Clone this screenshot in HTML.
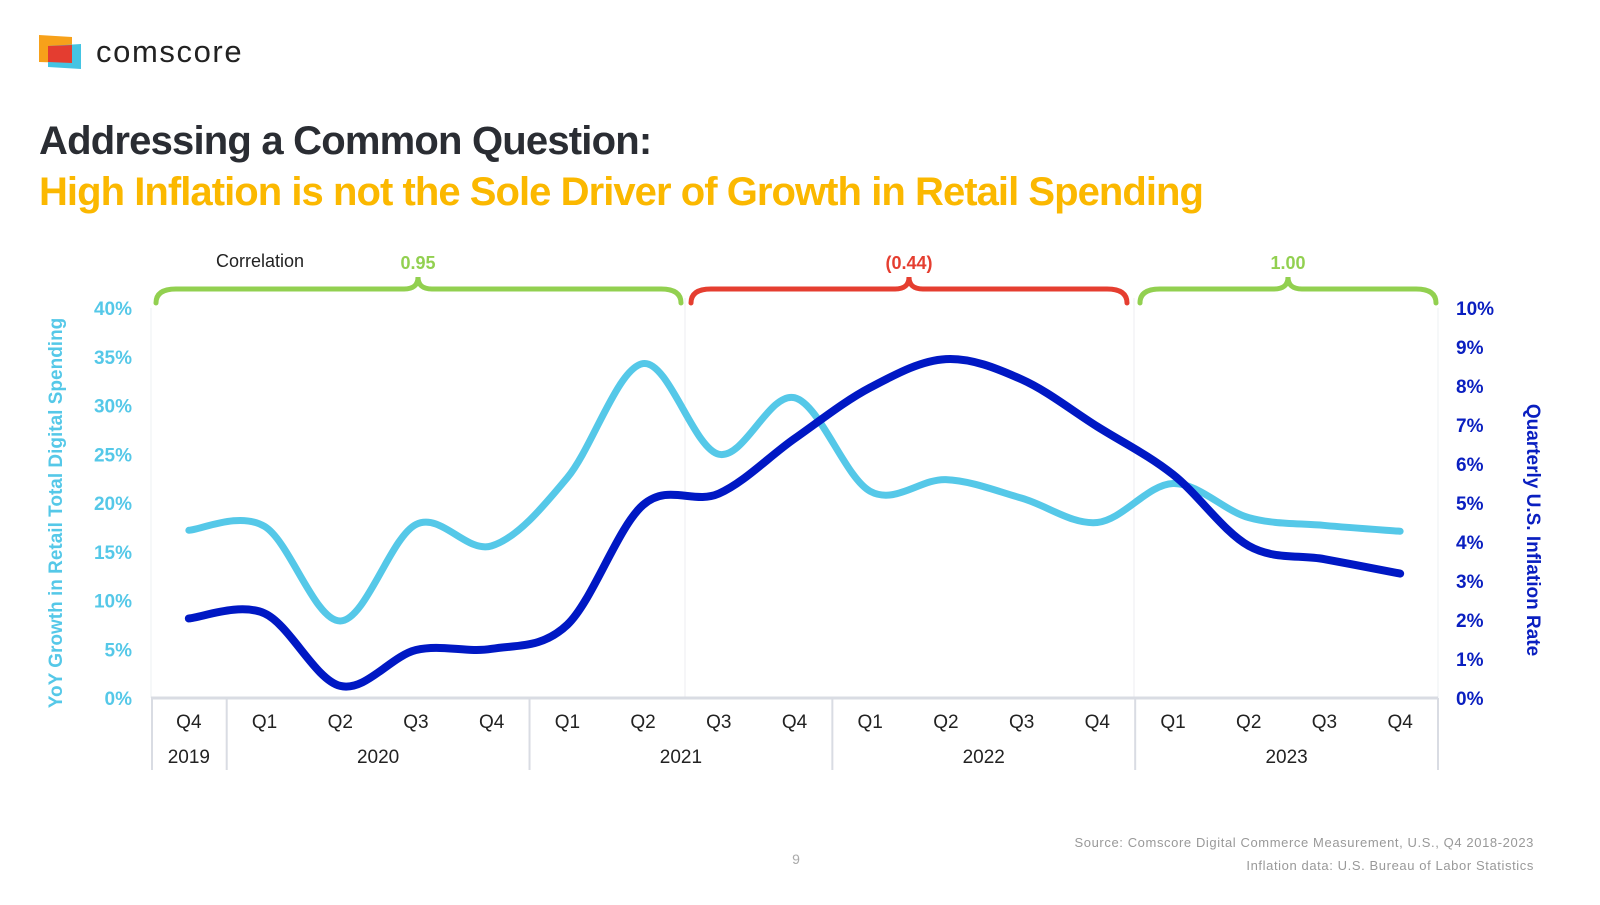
<!DOCTYPE html>
<html><head><meta charset="utf-8"><style>
html,body{margin:0;padding:0;background:#fff;}
body{width:1600px;height:900px;overflow:hidden;font-family:"Liberation Sans",sans-serif;}
</style></head><body>
<svg id="chart" width="1600" height="900" viewBox="0 0 1600 900" xmlns="http://www.w3.org/2000/svg" font-family="Liberation Sans, sans-serif">
  <g>
    <polygon points="39,35 72,37 72,63 39,62" fill="#f7a11a"/>
    <polygon points="48,46 81,44 81,69 48,67" fill="#44c4e3"/>
    <polygon points="48,46 72,45 72,63 48,62" fill="#e43d30"/>
    <text x="96" y="62" font-size="31" fill="#222" letter-spacing="1.6">comscore</text>
  </g>
  <text x="39" y="154" font-size="40" font-weight="bold" fill="#2a2d33" letter-spacing="-0.8">Addressing a Common Question:</text>
  <text x="39" y="205" font-size="40" font-weight="bold" fill="#fbb800" letter-spacing="-0.95">High Inflation is not the Sole Driver of Growth in Retail Spending</text>
  <g id="plot"></g>
  <text x="796" y="864" font-size="14" fill="#aaa" text-anchor="middle">9</text>
  <text x="1534" y="847" font-size="13" fill="#999" text-anchor="end" letter-spacing="0.6">Source: Comscore Digital Commerce Measurement, U.S., Q4 2018-2023</text>
  <text x="1534" y="870" font-size="13" fill="#999" text-anchor="end" letter-spacing="0.6">Inflation data: U.S. Bureau of Labor Statistics</text>
</svg>
<script>
const quarters = ["Q4","Q1","Q2","Q3","Q4","Q1","Q2","Q3","Q4","Q1","Q2","Q3","Q4","Q1","Q2","Q3","Q4"];
const years = ["2019","2020","2021","2022","2023"];
const yearSpans = [1,4,4,4,4];
const retailGrowth = [17.2,17.6,7.9,17.8,15.6,22.6,34.3,25.0,30.8,21.2,22.4,20.5,18.0,22.0,18.5,17.7,17.1];
const inflation = [2.04,2.17,0.31,1.23,1.26,1.88,4.95,5.24,6.65,7.96,8.69,8.17,6.96,5.73,3.9,3.56,3.19];
const leftTicks = [0,5,10,15,20,25,30,35,40];
const rightTicks = [0,1,2,3,4,5,6,7,8,9,10];
const correlations = ["0.95","(0.44)","1.00"];
const corrColors = ["#92d050","#e53e30","#92d050"];

const NS="http://www.w3.org/2000/svg";
const g=document.getElementById('plot');
const L=151,R=1438,T=308,B=698;
const cw=(R-L)/quarters.length;
const xAt=i=>L+cw*(i+0.5);
const yL=v=>B-(v/40)*(B-T);
const yR=v=>B-(v/10)*(B-T);
function mk(tag,attrs,parent){const e=document.createElementNS(NS,tag);for(const k in attrs)e.setAttribute(k,attrs[k]);(parent||g).appendChild(e);return e;}

mk('line',{x1:L,y1:T,x2:L,y2:B,stroke:'#eef0f3','stroke-width':1});
mk('line',{x1:R,y1:T,x2:R,y2:B,stroke:'#eef0f3','stroke-width':1});
[685,1134].forEach(x=>{const l=mk('line',{x1:x,y1:298,x2:x,y2:B,stroke:'#eceef1','stroke-width':1});

});
const ax=mk('line',{x1:L,y1:B,x2:R,y2:B,stroke:'#d9dce3','stroke-width':3});



leftTicks.forEach(v=>{const t=mk('text',{x:132,y:yL(v)+7,'font-size':19,'font-weight':'bold',fill:'#55c8e8','text-anchor':'end'});t.textContent=v+'%';

});
rightTicks.forEach(v=>{const t=mk('text',{x:1456,y:yR(v)+7,'font-size':19,'font-weight':'bold',fill:'#0a1fc0'});t.textContent=v+'%';

});
const lt=mk('text',{transform:'translate(62,513) rotate(-90)','font-size':19,'font-weight':'bold',fill:'#55c8e8','text-anchor':'middle'});
lt.textContent='YoY Growth in Retail Total Digital Spending';


const rt=mk('text',{transform:'translate(1527,530) rotate(90)','font-size':19,'font-weight':'bold',fill:'#0a1fc0','text-anchor':'middle'});
rt.textContent='Quarterly U.S. Inflation Rate';



quarters.forEach((q,i)=>{const t=mk('text',{x:xAt(i),y:728,'font-size':19,fill:'#222','text-anchor':'middle'});t.textContent=q;

});
let idx=0;
mk('line',{x1:L+1,y1:698,x2:L+1,y2:770,stroke:'#d9dce3','stroke-width':2});
years.forEach((y,k)=>{const s=idx,e=idx+yearSpans[k];idx=e;
const t=mk('text',{x:(L+cw*s+L+cw*e)/2,y:763,'font-size':19,fill:'#222','text-anchor':'middle'});t.textContent=y;


mk('line',{x1:L+cw*e,y1:698,x2:L+cw*e,y2:770,stroke:'#d9dce3','stroke-width':2});});

function smooth(pts){let d='M'+pts[0][0]+','+pts[0][1];for(let i=0;i<pts.length-1;i++){const p0=pts[i-1]||pts[i],p1=pts[i],p2=pts[i+1],p3=pts[i+2]||p2;const t=6;
d+=' C'+(p1[0]+(p2[0]-p0[0])/t)+','+(p1[1]+(p2[1]-p0[1])/t)+' '+(p2[0]-(p3[0]-p1[0])/t)+','+(p2[1]-(p3[1]-p1[1])/t)+' '+p2[0]+','+p2[1];}return d;}
const s1=mk('path',{d:smooth(retailGrowth.map((v,i)=>[xAt(i),yL(v)])),fill:'none',stroke:'#55c8e8','stroke-width':7,'stroke-linecap':'round'});


const s2=mk('path',{d:smooth(inflation.map((v,i)=>[xAt(i),yR(v)])),fill:'none',stroke:'#0018c4','stroke-width':8,'stroke-linecap':'round'});



function brace(x1,x2,xm){const y=289,r=14;
return 'M'+x1+','+(y+14)+' Q'+x1+','+y+' '+(x1+r+6)+','+y+' L'+(xm-14)+','+y+' Q'+xm+','+y+' '+xm+','+(y-12)+' Q'+xm+','+y+' '+(xm+14)+','+y+' L'+(x2-r-6)+','+y+' Q'+x2+','+y+' '+x2+','+(y+14);}
const br=[[156,681,418],[691,1127,909],[1140,1436,1288]];
br.forEach((b,k)=>{const p=mk('path',{d:brace(b[0],b[1],b[2]),fill:'none',stroke:corrColors[k],'stroke-width':5,'stroke-linecap':'round'});


const t=mk('text',{x:b[2],y:269,'font-size':18,'font-weight':'bold',fill:corrColors[k],'text-anchor':'middle'});t.textContent=correlations[k];

});
const ct=mk('text',{x:260,y:267,'font-size':18,fill:'#222','text-anchor':'middle'});ct.textContent='Correlation';


</script>
</body></html>
